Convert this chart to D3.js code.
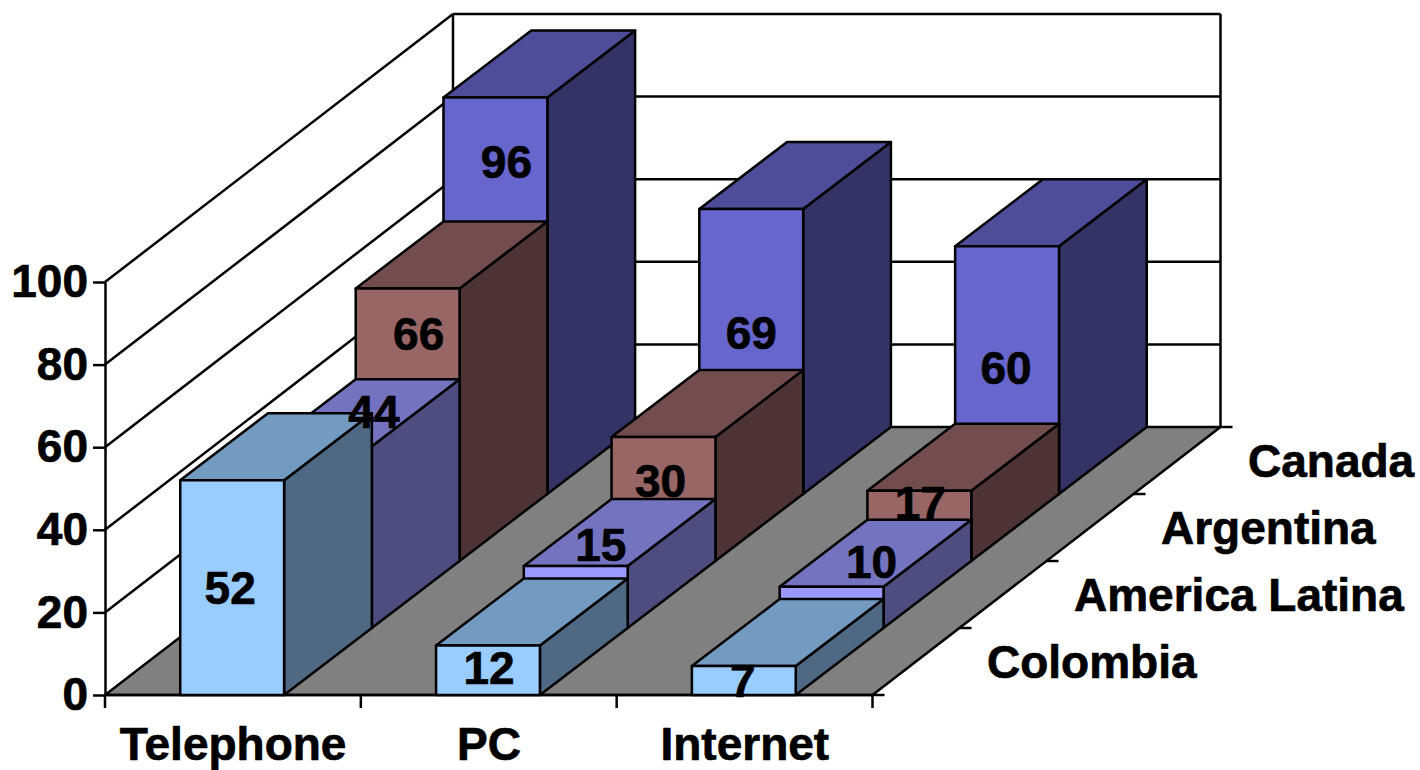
<!DOCTYPE html>
<html>
<head>
<meta charset="utf-8">
<script src="https://cdn.jsdelivr.net/npm/d3@7"></script>
<style>
  body { margin: 0; background: #fff; }
  text { font-family: "Liberation Sans", Arial, sans-serif; font-weight: bold; fill: #000; stroke: #000; stroke-width: 0.7px; }
</style>
</head>
<body>
<svg width="1420" height="770"></svg>
<script>
const categories = ["Telephone", "PC", "Internet"]
const series = ["Colombia", "America Latina", "Argentina", "Canada"]
const colombia = [52, 12, 7]
const americaLatina = [44, 15, 10]
const argentina = [66, 30, 17]
const canada = [96, 69, 60]
const yTicks = [0, 20, 40, 60, 80, 100]

const values = [colombia, americaLatina, argentina, canada]

// front, top and side colours of each series
const faces = [
  ["#99ccff", "#739ac0", "#4f6884"],
  ["#9999ff", "#7373bf", "#4d4d80"],
  ["#996666", "#734d4d", "#4d3333"],
  ["#6666cc", "#4d4d99", "#333366"]
]

// the labels were moved by hand in the original, offset from the middle of the front face
const labelNudge = [
  [[-2, 0], [1, -2], [-1, 0]],
  [[54, -125], [25, -52], [40, -45]],
  [[11, -91], [-3, -18], [1, -23]],
  [[11, -134], [0, -19], [-1, -2]]
]

const svg = d3.select("svg")

const x = d3.scaleBand().domain(categories).range([105, 872.5]).paddingInner(0.594).paddingOuter(0.297).align(0.495)
const y = d3.scaleLinear().domain([0, 100]).range([695, 282])
// depth goes up and to the right
const backX = 348, backY = -268
const barBackX = 351  // bars reach a little further than the floor
const depth = d3.scaleBand().domain(series).range([0, 1])
const xLeft = x.range()[0], xRight = x.range()[1]

const line = (x1, y1, x2, y2) => svg.append("line")
  .attr("x1", x1).attr("y1", y1).attr("x2", x2).attr("y2", y2)
  .attr("stroke", "#000").attr("stroke-width", 2.5)

const poly = (pts, fill) => svg.append("polygon")
  .attr("points", pts.map(p => p.join(",")).join(" "))
  .attr("fill", fill).attr("stroke", "#000").attr("stroke-width", 2.5)
  .attr("stroke-linejoin", "round")

// floor
poly([[xLeft, y(0)], [xRight, y(0)], [xRight + backX, y(0) + backY], [xLeft + backX, y(0) + backY]], "#808080")

// walls
yTicks.slice(1).forEach(t => {
  line(xLeft, y(t), xLeft + backX, y(t) + backY)
  line(xLeft + backX, y(t) + backY, xRight + backX, y(t) + backY)
})
line(xLeft + backX, y(0) + backY, xLeft + backX, y(100) + backY)
line(xRight + backX, y(0) + backY, xRight + backX, y(100) + backY)

// value axis
const yAxis = svg.append("g")
  .attr("transform", `translate(${xLeft},0)`)
  .call(d3.axisLeft(y).tickValues(yTicks).tickSize(12).tickSizeOuter(0).tickPadding(5))
yAxis.selectAll("path, line").attr("stroke", "#000").attr("stroke-width", 2.5)
yAxis.selectAll("text").attr("font-size", 46).attr("font-family", null)

// category axis
line(xLeft, y(0), xRight, y(0))
d3.range(categories.length + 1).forEach(i => {
  const tx = xLeft + i * x.step()
  line(tx, y(0), tx, y(0) + 13)
})
svg.selectAll(".cat").data(categories).enter().append("text")
  .attr("class", "cat")
  .attr("x", d => x(d) + x.bandwidth() / 2 + 1)
  .attr("y", 760)
  .attr("text-anchor", "middle")
  .attr("font-size", 46)
  .text(d => d)

// depth axis
d3.range(series.length + 1).forEach(i => {
  const f = i / series.length
  line(xRight + backX * f, y(0) + backY * f, xRight + backX * f + 12, y(0) + backY * f)
})
svg.selectAll(".ser").data(series).enter().append("text")
  .attr("class", "ser")
  .attr("x", d => xRight + backX * (depth(d) + depth.bandwidth() / 2) + 71)
  .attr("y", d => y(0) + backY * (depth(d) + depth.bandwidth() / 2))
  .attr("dy", "0.35em")
  .attr("font-size", 46)
  .text(d => d)

// bars, furthest row first
d3.range(series.length).reverse().forEach(s => {
  const dx = barBackX * depth(series[s]), dy = backY * depth(series[s])
  const stepX = barBackX * depth.step(), stepY = backY * depth.step()
  categories.forEach((c, i) => {
    const x0 = x(c) + dx, x1 = x0 + x.bandwidth()
    const y0 = y(0) + dy, y1 = y(values[s][i]) + dy
    poly([[x1, y0], [x1 + stepX, y0 + stepY], [x1 + stepX, y1 + stepY], [x1, y1]], faces[s][2])
    poly([[x0, y1], [x1, y1], [x1 + stepX, y1 + stepY], [x0 + stepX, y1 + stepY]], faces[s][1])
    poly([[x0, y0], [x1, y0], [x1, y1], [x0, y1]], faces[s][0])
  })
})

// value labels on top of everything
series.forEach((name, s) => {
  const dx = barBackX * depth(name), dy = backY * depth(name)
  categories.forEach((c, i) => {
    const v = values[s][i]
    svg.append("text")
      .attr("x", x(c) + x.bandwidth() / 2 + dx + labelNudge[s][i][0])
      .attr("y", y(v / 2) + dy + labelNudge[s][i][1])
      .attr("dy", "0.35em")
      .attr("text-anchor", "middle")
      .attr("font-size", 46)
      .text(v)
  })
})
</script>
</body>
</html>
